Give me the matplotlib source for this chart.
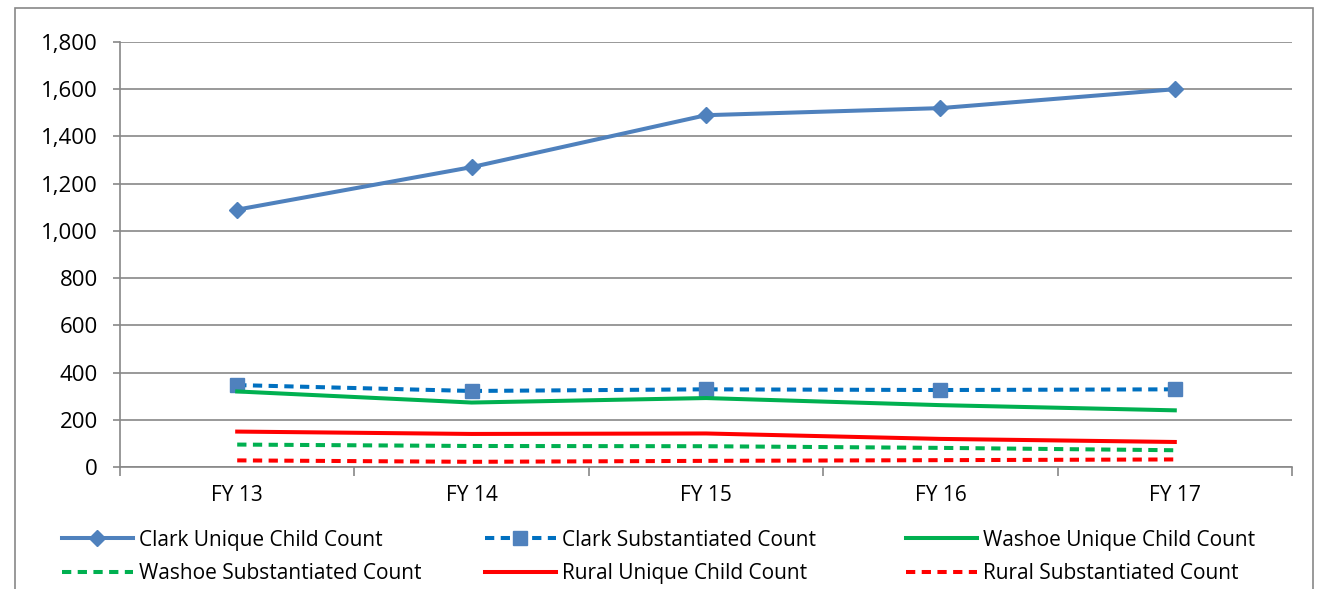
import matplotlib.pyplot as plt
from matplotlib.ticker import FuncFormatter, FixedLocator
from matplotlib.patches import Rectangle

years = ["FY 13", "FY 14", "FY 15", "FY 16", "FY 17"]
clark_unique = [1090, 1270, 1490, 1520, 1600]
clark_subst = [347, 322, 329, 326, 329]
washoe_unique = [320, 273, 292, 262, 240]
washoe_subst = [95, 89, 88, 81, 71]
rural_unique = [150, 140, 142, 119, 106]
rural_subst = [28, 22, 26, 29, 32]

plt.rcParams['font.family'] = ['Open Sans', 'DejaVu Sans']

fig = plt.figure(figsize=(13.18, 5.89), dpi=100)
ax = fig.add_axes([120 / 1318, 1 - 467 / 589, 1172 / 1318, 425 / 589])

# outer chart border
fig.patches.append(Rectangle((15 / 1318, -0.02), 1298 / 1318, 1.02 - 8 / 589,
                             transform=fig.transFigure, fill=False,
                             edgecolor="#888888", lw=1.2))

x = [i + 0.5 for i in range(len(years))]
dash = (0, (2.3, 1.6))
lw = 2.9

l1, = ax.plot(x, clark_unique, color="#4F81BD", lw=lw, marker="D", ms=8,
              label="Clark Unique Child Count")
l2, = ax.plot(x, clark_subst, color="#0070C0", lw=lw, ls=dash,
              marker="s", ms=10, mfc="#4F81BD", mec="#4F81BD",
              label="Clark Substantiated Count")
l3, = ax.plot(x, washoe_unique, color="#00B050", lw=lw,
              label="Washoe Unique Child Count")
l4, = ax.plot(x, washoe_subst, color="#00B050", lw=lw, ls=dash,
              label="Washoe Substantiated Count")
l5, = ax.plot(x, rural_unique, color="#FF0000", lw=lw,
              label="Rural Unique Child Count")
l6, = ax.plot(x, rural_subst, color="#FF0000", lw=lw, ls=dash,
              label="Rural Substantiated Count")

ax.set_xlim(0, len(years))
ax.set_ylim(0, 1800)
ax.set_yticks(range(0, 1801, 200))
ax.yaxis.set_major_formatter(FuncFormatter(lambda v, p: f"{int(v):,}"))
ax.grid(axis="y", color="#888888", lw=1.2)
ax.set_axisbelow(True)

ax.set_xticks(x)
ax.set_xticklabels(years)
ax.xaxis.set_minor_locator(FixedLocator(range(len(years) + 1)))
ax.tick_params(axis="x", which="major", length=0, labelsize=15, pad=13)
ax.tick_params(axis="x", which="minor", length=6.5, color="#888888", width=1.2)
ax.tick_params(axis="y", length=5, color="#888888", width=1.2, labelsize=16, pad=11)

for s in ["top", "right"]:
    ax.spines[s].set_visible(False)
for s in ["left", "bottom"]:
    ax.spines[s].set_color("#888888")
    ax.spines[s].set_linewidth(1.2)

# legend laid out row by row in three columns
cols = [([l1, l4], 62), ([l2, l5], 485), ([l3, l6], 906)]
for handles, x0 in cols:
    leg = fig.legend(handles=handles, loc="center left",
                     bbox_to_anchor=(x0 / 1318, 1 - 557 / 589),
                     frameon=False, fontsize=15, handlelength=3.4,
                     handletextpad=0.3, labelspacing=0.6,
                     borderpad=0, borderaxespad=0)

fig.savefig("out.png", dpi=100)
